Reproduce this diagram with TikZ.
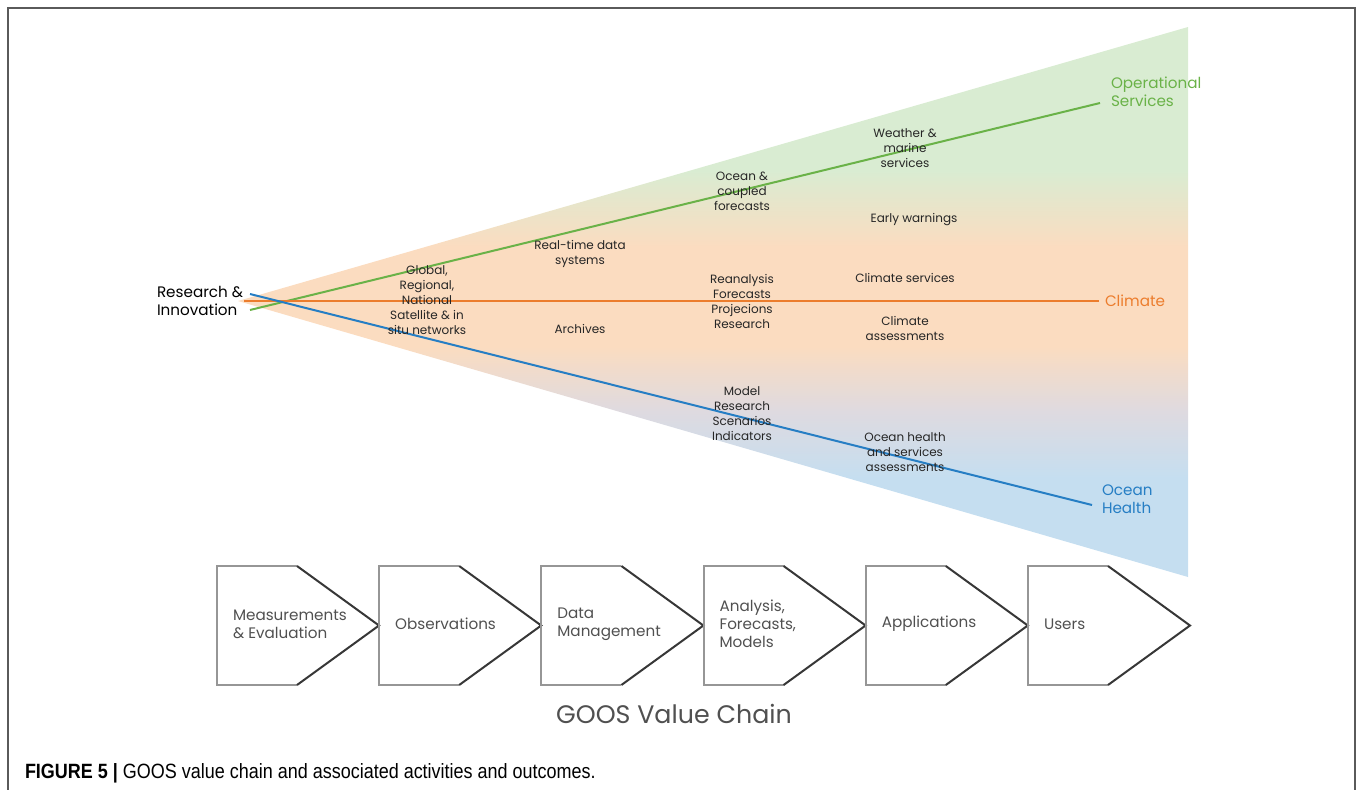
\documentclass[tikz,border=0pt]{standalone}
\usepackage{fontspec}
\setmainfont{Poppins}
\newfontfamily\capfont[FakeStretch=0.87]{Liberation Sans}
\usetikzlibrary{positioning}

\definecolor{opsgreen}{RGB}{106,178,72}
\definecolor{climorange}{RGB}{236,125,45}
\definecolor{oceanblue}{RGB}{38,126,196}
\definecolor{fangreen}{RGB}{217,236,210}
\definecolor{fanorange}{RGB}{251,220,192}
\definecolor{fangray}{RGB}{222,218,224}
\definecolor{fanblue}{RGB}{197,222,240}
\definecolor{boxgray}{RGB}{150,150,150}
\definecolor{tipgray}{RGB}{55,55,55}
\definecolor{chaintext}{RGB}{80,80,80}
\definecolor{frame}{RGB}{90,90,90}

\pgfdeclareverticalshading{fanshade}{100bp}{color(0bp)=(fanblue); color(25bp)=(fanblue); color(34bp)=(fanblue); color(40bp)=(fangray); color(46bp)=(fanorange); color(55bp)=(fanorange); color(62bp)=(fangreen); color(75bp)=(fangreen); color(100bp)=(fangreen)}

\tikzset{every picture/.style={line width=1.5pt}}
\tikzset{
  lbl/.style={align=center, inner sep=0pt, text=black!85, font=\fontsize{9}{11.25}\selectfont},
  endlbl/.style={anchor=west, align=left, inner sep=0pt, font=\fontsize{11.4}{13.5}\selectfont},
  stagetxt/.style={anchor=west, align=left, inner sep=0pt, text=chaintext, font=\fontsize{11.4}{13.5}\selectfont},
}

\begin{document}
\begin{tikzpicture}[x=0.75pt,y=-0.75pt]
	\useasboundingbox (0,0) rectangle (1360,789);
	%Khung
	\draw[frame] (8,8) rectangle (1355,810);
	%Quat mau
	\shade[shading=fanshade] (238,301) -- (1188,27) -- (1188,577) -- cycle;
	%Nhan ba dau ra
	\node[endlbl] (research) at (156,301) {Research \&\\Innovation};
	\node[endlbl, text=opsgreen] (ops) at (1110,92) {Operational\\Services};
	\node[endlbl, text=climorange] (climate) at (1104,301) {Climate};
	\node[endlbl, text=oceanblue] (health) at (1101,499) {Ocean\\Health};
	%Duong
	\coordinate (ops start) at (250,310);
	\coordinate (ops end) at (1100,103);
	\coordinate (clim start) at (244,301);
	\coordinate (clim end) at (1099,301);
	\coordinate (health start) at (250,294);
	\coordinate (health end) at (1092,505);
	\draw[opsgreen] (ops start) -- (ops end);
	\draw[climorange] (clim start) -- (clim end);
	\draw[oceanblue] (health start) -- (health end);
	%Nhan giua
	\node[lbl] (networks) at (427,300) {Global,\\Regional,\\National\\Satellite \& in\\situ networks};
	\node[lbl] (realtime) at (580,253.5) {Real-time data\\systems};
	\node[lbl] (archives) at (580,329) {Archives};
	\node[lbl] (coupled) at (742,191) {Ocean \&\\coupled\\forecasts};
	\node[lbl] (reanalysis) at (742,301.5) {Reanalysis\\Forecasts\\Projecions\\Research};
	\node[lbl] (model) at (742,413.5) {Model\\Research\\Scenarios\\Indicators};
	\node[lbl] (weather) at (905,148) {Weather \&\\marine\\services};
	\node[lbl] (warnings) at (914,220) {Early warnings};
	\node[lbl] (climserv) at (905,278) {Climate services};
	\node[lbl] (climass) at (905,328.5) {Climate\\assessments};
	\node[lbl] (healthass) at (905,452) {Ocean health\\and services\\assessments};
	%Chuoi gia tri
	\foreach \txt [count=\i from 0] in {{Measurements\\\& Evaluation},{Observations},{Data\\Management},{Analysis,\\Forecasts,\\Models},{Applications},{Users}}{
		\pgfmathsetmacro{\xl}{217+162.2*\i}
		\draw[boxgray] (\xl+80,566) -- (\xl,566) -- (\xl,685) -- (\xl+80,685);
		\draw[tipgray] (\xl+80,566) -- (\xl+162,625.5) -- (\xl+80,685);
		\node[stagetxt] (stage\i) at (\xl+15,624) {\txt};
	}
	\node[text=chaintext, font=\fontsize{19}{22}\selectfont] (chain) at (674,714) {GOOS Value Chain};
	%Chu thich
	\node[anchor=west, inner sep=0pt, font=\capfont\fontsize{15.5}{18}\selectfont] (caption) at (24,773) {\textbf{FIGURE 5 |} GOOS value chain and associated activities and outcomes.};
\end{tikzpicture}
\end{document}
